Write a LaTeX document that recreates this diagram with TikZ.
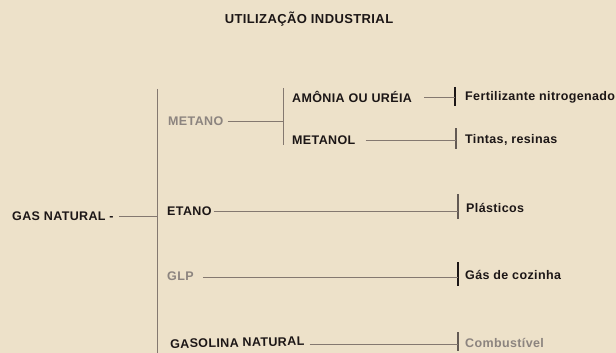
\documentclass[tikz,border=0pt]{standalone}
\usepackage{fontspec}
\setmainfont{Liberation Sans}[LetterSpace=3]
\definecolor{bg}{HTML}{EDE1C9}
\definecolor{ink}{HTML}{1C1616}
\definecolor{greytext}{HTML}{8C847F}
\definecolor{linec}{HTML}{847870}
\begin{document}
\begin{tikzpicture}[x=1pt,y=-1pt,
  lbl/.style={font=\fontsize{12.5}{14}\selectfont\bfseries,text=ink,inner sep=0pt,anchor=west},
  glbl/.style={lbl,text=greytext},
  ttl/.style={font=\fontsize{13}{15}\selectfont\bfseries,text=ink,inner sep=0pt},
  ln/.style={draw=linec,line width=1pt},
  tick/.style={draw=linec!75!black,line width=1.1pt}]
\fill[bg] (0,0) rectangle (616,353);
\useasboundingbox (0,0) rectangle (616,353);
% title
\node[ttl] (title) at (309,19) {UTILIZAÇÃO INDUSTRIAL};
% trunk
\coordinate (tT) at (157,89);
\coordinate (tB) at (157,353);
\draw[ln] (tT) -- (tB);
% gas natural
\node[lbl] (gas) at (12,216) {GAS NATURAL -};
\draw[ln] ([xshift=5pt]gas.east) -- (gas.east -| tT);
% metano
\node[glbl] (metano) at (168,121) {METANO};
\coordinate (bT) at (283,88);
\coordinate (bB) at (283,145);
\draw[ln] (bT) -- (bB);
\draw[ln] ([xshift=4pt]metano.east) -- (metano.east -| bT);
% amonia
\node[lbl] (amonia) at (292,97) {AMÔNIA OU URÉIA};
\coordinate (k1T) at (455,87); \coordinate (k1B) at (455,106);
\draw[tick,draw=ink] (k1T) -- (k1B);
\draw[ln] ([xshift=12pt]amonia.east) -- (amonia.east -| k1T);
\node[lbl] (fert) at (465,97) {Fertilizante nitrogenado};
% metanol
\node[lbl] (metanol) at (292,140) {METANOL};
\coordinate (k2T) at (456,128); \coordinate (k2B) at (456,149);
\draw[tick] (k2T) -- (k2B);
\draw[ln] ([xshift=10pt]metanol.east) -- (metanol.east -| k2T);
\node[lbl] (tintas) at (465,140) {Tintas, resinas};
% etano
\node[lbl] (etano) at (167,211) {ETANO};
\coordinate (k3T) at (458,194); \coordinate (k3B) at (458,219);
\draw[tick] (k3T) -- (k3B);
\draw[ln] ([xshift=2pt]etano.east) -- (etano.east -| k3T);
\node[lbl] (plast) at (466,208) {Plásticos};
% glp
\node[glbl] (glp) at (167,276) {GLP};
\coordinate (k4T) at (458,262); \coordinate (k4B) at (458,286);
\draw[tick,draw=ink] (k4T) -- (k4B);
\draw[ln] ([xshift=9pt,yshift=-1pt]glp.east) -- ([yshift=-1pt]glp.east -| k4T);
\node[lbl] (gascoz) at (465,275) {Gás de cozinha};
% gasolina natural
\node[lbl,rotate=1.2] (gasol) at (170,344) {GASOLINA NATURAL};
\coordinate (k5T) at (458,332); \coordinate (k5B) at (458,351);
\draw[tick] (k5T) -- (k5B);
\draw[ln] ([xshift=5pt,yshift=-3pt]gasol.east) -- ([yshift=-3pt]gasol.east -| k5T);
\node[glbl] (comb) at (465,343) {Combustível};
\end{tikzpicture}
\end{document}
